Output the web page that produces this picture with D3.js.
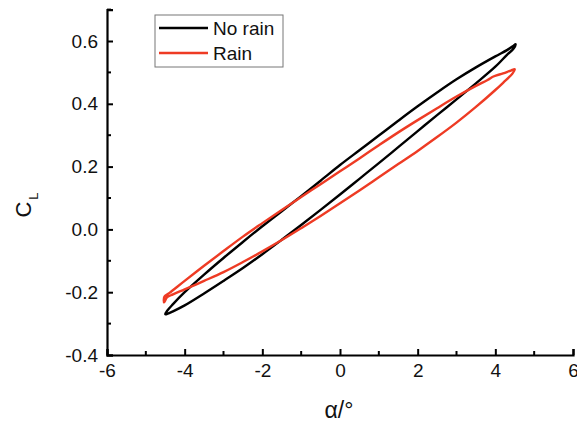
<!DOCTYPE html>
<html>
<head>
<meta charset="utf-8">
<script src="https://cdn.jsdelivr.net/npm/d3@7"></script>
<style>
  html, body { margin: 0; padding: 0; background: #fff; }
  svg { display: block; font-family: Arial, "Liberation Sans", sans-serif; }
</style>
</head>
<body>
<svg id="chart" width="577" height="425"></svg>
<script>
// ---- data ----
const xTicks = [-6, -4, -2, 0, 2, 4, 6];
const yTicks = [-0.4, -0.2, 0.0, 0.2, 0.4, 0.6];
const seriesNames = ["No rain", "Rain"];
const seriesColors = ["#000000", "#ee3b24"];

// No rain: upper branch (alpha increasing) then lower branch (alpha decreasing)
const noRainUpAlpha = [-4.5, -4.45, -4.3, -4.0, -3.5, -3.0, -2.5, -2.0, -1.5, -1.0, -0.5, 0.0, 0.5, 1.0, 1.5, 2.0, 2.5, 3.0, 3.5, 4.0, 4.3, 4.45, 4.52];
const noRainUpCL    = [-0.270, -0.259, -0.238, -0.200, -0.144, -0.091, -0.040, 0.010, 0.058, 0.106, 0.155, 0.205, 0.252, 0.299, 0.346, 0.392, 0.436, 0.478, 0.516, 0.551, 0.571, 0.583, 0.590];
const noRainDnAlpha = [4.47, 4.3, 4.0, 3.5, 3.0, 2.5, 2.0, 1.5, 1.0, 0.5, 0.0, -0.5, -1.0, -1.5, -2.0, -2.5, -3.0, -3.5, -4.0, -4.3, -4.45];
const noRainDnCL    = [0.576, 0.556, 0.518, 0.465, 0.414, 0.364, 0.313, 0.262, 0.211, 0.161, 0.111, 0.062, 0.014, -0.033, -0.079, -0.123, -0.164, -0.204, -0.242, -0.261, -0.269];

// Rain
const rainUpAlpha = [-4.52, -4.4, -4.0, -3.5, -3.0, -2.5, -2.0, -1.5, -1.0, -0.5, 0.0, 0.5, 1.0, 1.5, 2.0, 2.5, 3.0, 3.5, 3.8, 3.95, 4.2, 4.4, 4.5];
const rainUpCL    = [-0.214, -0.203, -0.164, -0.116, -0.069, -0.023, 0.020, 0.062, 0.103, 0.144, 0.185, 0.226, 0.268, 0.309, 0.348, 0.386, 0.423, 0.457, 0.476, 0.487, 0.497, 0.506, 0.510];
const rainDnAlpha = [4.44, 4.2, 4.0, 3.5, 3.0, 2.5, 2.0, 1.5, 1.0, 0.5, 0.0, -0.5, -1.0, -1.5, -2.0, -2.5, -3.0, -3.5, -4.0, -4.3, -4.45, -4.53];
const rainDnCL    = [0.496, 0.467, 0.444, 0.390, 0.340, 0.294, 0.250, 0.208, 0.166, 0.124, 0.083, 0.043, 0.004, -0.034, -0.070, -0.104, -0.136, -0.164, -0.191, -0.207, -0.216, -0.232];

// ---- layout ----
const svg = d3.select("#chart");
const W = 577, H = 425;
const margin = { left: 107, right: 4, top: 9.6, bottom: 70 };

const x = d3.scaleLinear().domain([-6, 6]).range([margin.left, W - margin.right]);
const y = d3.scaleLinear().domain([-0.4, 0.7]).range([H - margin.bottom, margin.top]);

const toPts = (ax, cx) => ax.map((a, i) => [a, cx[i]]);
const loops = [
  toPts(noRainUpAlpha, noRainUpCL).concat(toPts(noRainDnAlpha, noRainDnCL)),
  toPts(rainUpAlpha, rainUpCL).concat(toPts(rainDnAlpha, rainDnCL))
];

const line = d3.line().x(d => x(d[0])).y(d => y(d[1])).curve(d3.curveCatmullRomClosed.alpha(0.5));

svg.append("g").selectAll("path")
  .data(loops)
  .join("path")
  .attr("d", d => line(d))
  .attr("fill", "none")
  .attr("stroke", (d, i) => seriesColors[i])
  .attr("stroke-width", 2.4)
  .attr("stroke-linejoin", "round");

// ---- axes ----
const fontSize = 19;
const xAxis = d3.axisBottom(x).tickValues(xTicks).tickSize(-6).tickPadding(9);
const gx = svg.append("g").attr("transform", `translate(0,${y(-0.4)})`).call(xAxis);
const xMinor = d3.range(-5, 6, 2);
gx.selectAll(".minor").data(xMinor).join("line").attr("class", "minor")
  .attr("x1", d => x(d)).attr("x2", d => x(d)).attr("y1", 0).attr("y2", -4)
  .attr("stroke", "#000").attr("stroke-width", 2);

const yAxis = d3.axisLeft(y).tickValues(yTicks).tickSize(-6).tickPadding(9);
const gy = svg.append("g").attr("transform", `translate(${x(-6)},0)`).call(yAxis);
const yMinor = [-0.3, -0.1, 0.1, 0.3, 0.5, 0.7];
gy.selectAll(".minor").data(yMinor).join("line").attr("class", "minor")
  .attr("y1", d => y(d)).attr("y2", d => y(d)).attr("x1", 0).attr("x2", 4)
  .attr("stroke", "#000").attr("stroke-width", 2);

[gx, gy].forEach(g => {
  g.select(".domain").attr("stroke", "#000").attr("stroke-width", 2.2);
  g.selectAll(".tick line").attr("stroke", "#000").attr("stroke-width", 2);
  g.selectAll(".tick text").attr("fill", "#111").style("font-size", fontSize + "px")
    .style("font-family", "Arial, 'Liberation Sans', sans-serif");
});
gx.selectAll(".tick text").text(d => d < 0 ? "-" + Math.abs(d) : d);
gy.selectAll(".tick text").text(d => (d < 0 ? "-" : "") + Math.abs(d).toFixed(1));

// ---- axis titles ----
svg.append("text")
  .attr("x", (x(-6) + x(6)) / 2 - 1).attr("y", 418)
  .attr("text-anchor", "middle")
  .style("font-size", "23px").attr("fill", "#111")
  .text("α/°");

const yt = svg.append("text")
  .attr("transform", `translate(31,205) rotate(-90)`)
  .attr("text-anchor", "middle")
  .style("font-size", "22px").attr("fill", "#111");
yt.append("tspan").text("C");
yt.append("tspan").attr("dy", 7).attr("dx", 2).style("font-size", "13px").text("L");

// ---- legend ----
const lg = svg.append("g").attr("transform", "translate(155,15)");
lg.append("rect").attr("width", 128).attr("height", 52)
  .attr("fill", "#fff").attr("stroke", "#777").attr("stroke-width", 1);
seriesNames.forEach((name, i) => {
  const yy = 13 + i * 25;
  lg.append("line").attr("x1", 4).attr("x2", 53).attr("y1", yy).attr("y2", yy)
    .attr("stroke", seriesColors[i]).attr("stroke-width", 2.4);
  lg.append("text").attr("x", 58).attr("y", yy + 7)
    .style("font-size", "19px").attr("fill", "#111").text(name);
});
</script>
</body>
</html>
